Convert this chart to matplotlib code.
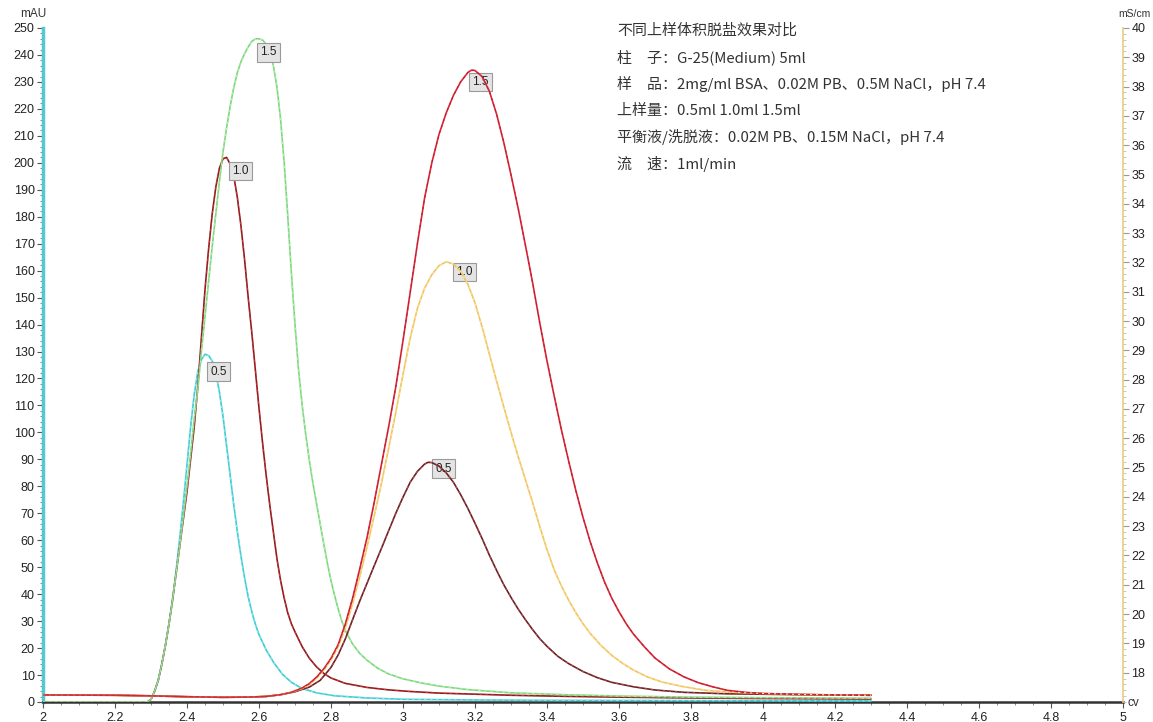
import matplotlib
matplotlib.use("Agg")
import matplotlib.pyplot as plt
from matplotlib.ticker import MultipleLocator, FixedLocator

plt.rcParams['font.family'] = ['Liberation Sans', 'DejaVu Sans']

# ---------------- data (UV absorbance, mAU; left axis) ----------------
cv_uv_15 = [2.00, 2.29, 2.30, 2.31, 2.32, 2.33, 2.34, 2.35, 2.36, 2.37, 2.38, 2.39, 2.40,
            2.41, 2.42, 2.43, 2.44, 2.45, 2.46, 2.47, 2.48, 2.49, 2.50,
            2.51, 2.52, 2.53, 2.54, 2.55, 2.56, 2.57, 2.58, 2.59, 2.60,
            2.61, 2.62, 2.63, 2.64, 2.65, 2.66, 2.67, 2.68, 2.69, 2.70,
            2.71, 2.72, 2.73, 2.74, 2.75, 2.76, 2.77, 2.78, 2.79, 2.80,
            2.81, 2.82, 2.83, 2.84, 2.86, 2.88, 2.90, 2.93, 2.96, 3.00, 3.05, 3.10, 3.18,
            3.30, 3.45, 3.60, 3.80, 4.00, 4.30]
uv_15 = [0, 0, 1, 4, 8, 14, 21, 29, 38, 48, 58, 69, 80,
         92, 105, 116, 130, 143, 156, 169, 181, 193, 204,
         213, 221, 228, 233.5, 237.5, 240.5, 243, 245, 246, 246,
         245.5, 244, 241, 236, 228, 216, 200, 180, 159, 140,
         123, 110, 99, 89.5, 81, 73.5, 66, 58.5, 51.5, 45,
         39.5, 34.5, 30, 26.5, 21.5, 18, 15.5, 12.5, 10.4, 8.6, 7.1, 5.9, 4.6,
         3.4, 2.7, 2.2, 1.8, 1.6, 1.4]

cv_uv_10 = [2.00, 2.29, 2.30, 2.31, 2.32, 2.33, 2.34, 2.35, 2.36, 2.37, 2.38, 2.39, 2.40,
            2.41, 2.42, 2.43, 2.44, 2.45, 2.46, 2.47, 2.48, 2.49, 2.50,
            2.51, 2.52, 2.53, 2.54, 2.55, 2.56, 2.57, 2.58, 2.59, 2.60,
            2.61, 2.62, 2.63, 2.64, 2.65, 2.66, 2.67, 2.68, 2.69, 2.70,
            2.72, 2.74, 2.76, 2.78, 2.80, 2.84, 2.90, 2.96, 3.02, 3.10, 3.20, 3.30,
            3.45, 3.60, 3.80, 4.00, 4.30]
uv_10 = [0, 0, 1, 4, 8, 14, 21, 29, 38, 48, 58, 68, 78,
         90, 102, 117, 135, 153, 168, 181, 191, 198, 201.5,
         202, 199.5, 195, 187, 176.5, 164, 150, 137, 123, 109,
         96, 84, 73, 63, 53, 45, 38.5, 33, 29, 26,
         20.5, 16.2, 13, 10.6, 8.9, 6.9, 5.4, 4.5, 3.9, 3.3, 2.9, 2.5,
         2.1, 1.8, 1.5, 1.3, 1.1]

cv_uv_05 = [2.00, 2.29, 2.30, 2.31, 2.32, 2.33, 2.34, 2.35, 2.36, 2.37, 2.38, 2.39, 2.40,
            2.41, 2.42, 2.43, 2.44, 2.45, 2.46, 2.47, 2.48, 2.49, 2.50,
            2.51, 2.52, 2.53, 2.54, 2.55, 2.56, 2.57, 2.58, 2.59, 2.60,
            2.62, 2.64, 2.665, 2.69, 2.72, 2.76, 2.81, 2.90, 3.00, 3.20, 3.40, 3.80, 4.30]
uv_05 = [0, 0, 1, 4, 8, 14, 21, 29, 38, 49, 61, 74, 88,
         102, 114, 122.5, 127, 129, 128.5, 126.5, 122, 115, 106,
         95, 84, 73, 63, 54, 46, 39, 33.5, 28.8, 25,
         19.3, 14.8, 10.3, 7.3, 5, 3.4, 2.3, 1.5, 1.0, 0.75, 0.6, 0.5, 0.4]

# ---------------- data (conductivity, mS/cm; right axis) ----------------
cv_cond_15 = [2.00, 2.20, 2.30, 2.40, 2.50, 2.58, 2.62, 2.66, 2.69, 2.72,
              2.74, 2.76, 2.78, 2.80, 2.82, 2.84, 2.86, 2.88, 2.90, 2.92,
              2.94, 2.96, 2.98, 3.00, 3.02, 3.04, 3.06, 3.08, 3.10, 3.12,
              3.14, 3.16, 3.18, 3.19, 3.20, 3.22, 3.24, 3.26, 3.28, 3.30,
              3.32, 3.34, 3.36, 3.38, 3.40, 3.42, 3.44, 3.46, 3.48, 3.50,
              3.52, 3.54, 3.56, 3.58, 3.60, 3.62, 3.64, 3.67, 3.70, 3.74,
              3.78, 3.82, 3.86, 3.90, 3.95, 4.00, 4.10, 4.20, 4.30]
cond_15 = [17.24, 17.23, 17.21, 17.18, 17.16, 17.17, 17.19, 17.25, 17.33, 17.48,
           17.63, 17.85, 18.13, 18.49, 18.96, 19.67, 20.54, 21.55, 22.61, 23.81,
           25.10, 26.38, 27.76, 29.33, 30.98, 32.64, 34.20, 35.40, 36.37, 37.10,
           37.70, 38.16, 38.48, 38.56, 38.55, 38.34, 37.84, 37.06, 36.09, 34.99,
           33.84, 32.59, 31.31, 29.93, 28.64, 27.44, 26.29, 25.23, 24.22, 23.30,
           22.47, 21.74, 21.09, 20.54, 20.08, 19.67, 19.32, 18.89, 18.50, 18.13,
           17.86, 17.66, 17.52, 17.40, 17.33, 17.29, 17.26, 17.24, 17.23]

cv_cond_10 = [2.00, 2.20, 2.30, 2.40, 2.50, 2.58, 2.62, 2.66, 2.69, 2.72,
              2.74, 2.76, 2.78, 2.80, 2.82, 2.84, 2.86, 2.88, 2.90, 2.92,
              2.94, 2.96, 2.98, 3.00, 3.02, 3.04, 3.06, 3.08, 3.10, 3.12,
              3.14, 3.16, 3.18, 3.20, 3.22, 3.24, 3.26, 3.28, 3.30, 3.32,
              3.34, 3.36, 3.38, 3.40, 3.42, 3.44, 3.46, 3.48, 3.50, 3.52,
              3.55, 3.58, 3.61, 3.64, 3.68, 3.72, 3.78, 3.84, 3.90, 4.00,
              4.10, 4.20, 4.30]
cond_10 = [17.24, 17.23, 17.21, 17.18, 17.16, 17.17, 17.19, 17.25, 17.33, 17.46,
           17.60, 17.81, 18.09, 18.44, 18.89, 19.53, 20.36, 21.28, 22.29, 23.35,
           24.45, 25.65, 26.89, 28.18, 29.42, 30.43, 31.12, 31.58, 31.89, 32.02,
           31.95, 31.70, 31.26, 30.62, 29.79, 28.87, 27.95, 27.07, 26.20, 25.37,
           24.59, 23.81, 22.98, 22.20, 21.51, 20.96, 20.48, 20.05, 19.67, 19.34,
           18.93, 18.59, 18.32, 18.09, 17.85, 17.68, 17.52, 17.40, 17.34, 17.29,
           17.26, 17.24, 17.23]

cv_cond_05 = [2.00, 2.20, 2.30, 2.40, 2.50, 2.58, 2.62, 2.66, 2.70, 2.74,
              2.77, 2.80, 2.82, 2.84, 2.86, 2.88, 2.90, 2.92, 2.94, 2.96,
              2.98, 3.00, 3.02, 3.04, 3.06, 3.07, 3.08, 3.10, 3.12, 3.14,
              3.16, 3.18, 3.20, 3.22, 3.24, 3.26, 3.28, 3.30, 3.32, 3.34,
              3.36, 3.38, 3.40, 3.43, 3.46, 3.50, 3.54, 3.58, 3.64, 3.70,
              3.78, 3.90, 4.10, 4.30]
cond_05 = [17.24, 17.23, 17.21, 17.18, 17.16, 17.17, 17.19, 17.25, 17.35, 17.51,
           17.74, 18.18, 18.61, 19.16, 19.81, 20.45, 21.05, 21.65, 22.24, 22.84,
           23.44, 23.99, 24.50, 24.87, 25.12, 25.18, 25.17, 25.05, 24.82, 24.50,
           24.08, 23.61, 23.10, 22.57, 22.01, 21.49, 21.00, 20.57, 20.17, 19.81,
           19.47, 19.16, 18.90, 18.56, 18.31, 18.04, 17.83, 17.67, 17.52, 17.41,
           17.33, 17.28, 17.25, 17.23]

x_ticks = [2.0, 2.2, 2.4, 2.6, 2.8, 3.0, 3.2, 3.4, 3.6, 3.8, 4.0, 4.2, 4.4, 4.6, 4.8, 5.0]
x_tick_labels = ["2", "2.2", "2.4", "2.6", "2.8", "3", "3.2", "3.4", "3.6", "3.8", "4", "4.2",
                 "4.4", "4.6", "4.8", "5"]

peak_labels = ["1.5", "1.0", "0.5"]

info_lines = [
    "不同上样体积脱盐效果对比",
    "柱　子：G-25(Medium) 5ml",
    "样　品：2mg/ml BSA、0.02M PB、0.5M NaCl，pH 7.4",
    "上样量：0.5ml 1.0ml 1.5ml",
    "平衡液/洗脱液：0.02M PB、0.15M NaCl，pH 7.4",
    "流　速：1ml/min",
]

# ---------------- figure ----------------
W, H = 1153, 722
fig = plt.figure(figsize=(W / 100, H / 100), dpi=100)
L, R, T, B = 43, 1123, 28, 702
ax = fig.add_axes([L / W, (H - B) / H, (R - L) / W, (B - T) / H])
ax2 = ax.twinx()

ax.set_xlim(2, 5)
ax.set_ylim(0, 250)
ax2.set_ylim(17, 40)


def two_tone(a, x, y, c1, c2, lw=1.2, z=3):
    a.plot(x, y, color=c1, lw=lw, zorder=z, solid_joinstyle='round', solid_capstyle='round')
    a.plot(x, y, color=c2, lw=lw * 0.6, dashes=(2, 4), zorder=z + 0.1)


# conductivity curves (right axis)
two_tone(ax2, cv_cond_05, cond_05, '#6a2228', '#c05050')
two_tone(ax2, cv_cond_10, cond_10, '#f2c55e', '#fae6b0')
two_tone(ax2, cv_cond_15, cond_15, '#e3222c', '#8a2a55')

# UV curves (left axis)
two_tone(ax, cv_uv_05, uv_05, '#3ccdd6', '#a4e8ec')
two_tone(ax, cv_uv_10, uv_10, '#8e1c1e', '#dc3a3a')
two_tone(ax, cv_uv_15, uv_15, '#7ed87e', '#c0f0c0')

box = dict(boxstyle='square,pad=0.28', fc='#e4e4e4', ec='#9a9a9a', lw=0.8)
lbl_kw = dict(fontsize=8.5, color='#222222', ha='center', va='center', bbox=box, zorder=10)
ax.text(2.626, 241, peak_labels[0], **lbl_kw)
ax.text(2.548, 197, peak_labels[1], **lbl_kw)
ax.text(2.487, 122.5, peak_labels[2], **lbl_kw)
ax.text(3.215, 230, peak_labels[0], **lbl_kw)
ax.text(3.170, 159.5, peak_labels[1], **lbl_kw)
ax.text(3.112, 86.5, peak_labels[2], **lbl_kw)

# spines
for a in (ax, ax2):
    a.spines['top'].set_visible(False)
ax2.spines['left'].set_visible(False)
ax2.spines['bottom'].set_visible(False)
ax.spines['right'].set_visible(False)
ax.spines['left'].set_color('#56c8d0')
ax.spines['left'].set_linewidth(2.5)
ax2.spines['right'].set_color('#e8cc80')
ax2.spines['right'].set_linewidth(1.2)
ax.spines['bottom'].set_color('#333333')
ax.spines['bottom'].set_linewidth(1.8)

# ticks
tick_font = 9
ax.set_xticks(x_ticks)
ax.set_xticklabels(x_tick_labels)
ax.xaxis.set_minor_locator(MultipleLocator(0.05))
ax.yaxis.set_major_locator(MultipleLocator(10))
ax.yaxis.set_minor_locator(MultipleLocator(2))
ax.tick_params(axis='both', which='major', labelsize=tick_font, colors='#555555',
               labelcolor='#222222', length=4, width=0.8, direction='out', pad=2)
ax.tick_params(axis='both', which='minor', colors='#777777', length=2, width=0.6, direction='out')
ax.tick_params(axis='x', pad=3)

ax2.yaxis.set_major_locator(FixedLocator(list(range(18, 41))))
ax2.yaxis.set_minor_locator(MultipleLocator(0.2))
ax2.tick_params(axis='y', which='major', labelsize=tick_font, colors='#999999',
                labelcolor='#222222', length=4, width=0.8, direction='out', pad=2)
ax2.tick_params(axis='y', which='minor', colors='#bbbbbb', length=2, width=0.6, direction='out')

# unit labels
fig.text(20 / W, 1 - 14 / H, "mAU", fontsize=8.5, color='#333333', ha='left', va='center')
fig.text(1151 / W, 1 - 14 / H, "mS/cm", fontsize=7.5, color='#333333', ha='right', va='center')
fig.text(1127 / W, 1 - 703 / H, "cv", fontsize=8.5, color='#333333', ha='left', va='center')

# info block
y0 = 31
for i, line in enumerate(info_lines):
    fig.text(617 / W, 1 - (y0 + i * 26.5) / H, line, fontsize=10.8, color='#333333',
             ha='left', va='center', family=['Noto Sans CJK SC', 'DejaVu Sans'])

fig.savefig("out.png", dpi=100, facecolor='white')
